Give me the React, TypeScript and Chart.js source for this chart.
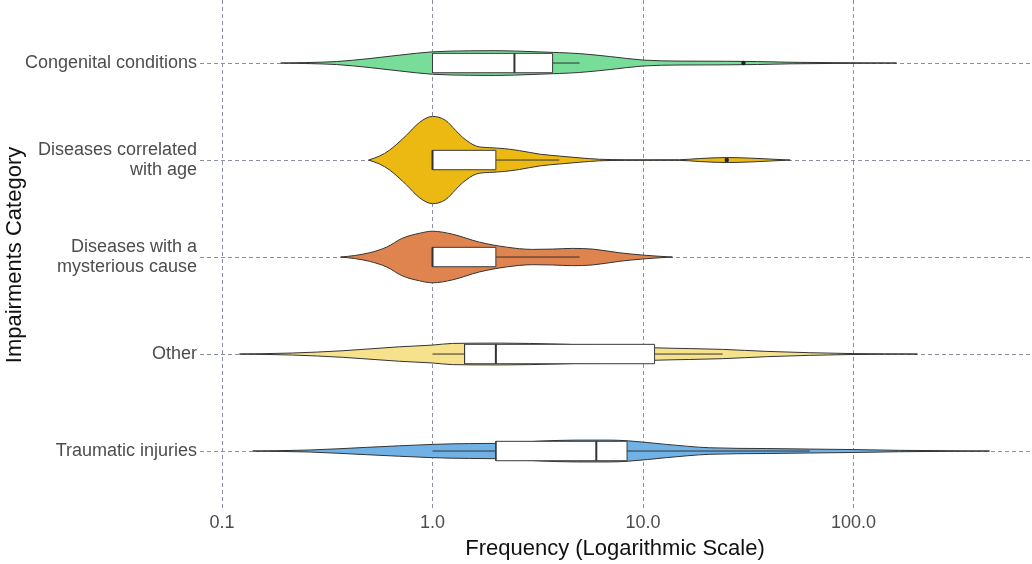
import React, { useEffect, useRef } from 'react';
import { Chart, registerables } from 'chart.js';

Chart.register(...registerables);

// ---------- data ----------
const categories = [
  'Congenital conditions',
  'Diseases correlated\nwith age',
  'Diseases with a\nmysterious cause',
  'Other',
  'Traumatic injuries',
];

const fillColors = ['#77DD99', '#ECB913', '#E0844F', '#F6E28C', '#70B2E6'];

// violin density profiles (x = frequency, d = relative density, 1 = widest violin)
const congenitalX = [0.19, 0.25, 0.35, 0.5, 0.7, 1.0, 1.5, 2.0, 3.0, 4.0, 5.0, 7.0, 10, 15, 25, 35, 50, 80, 160];
const congenitalD = [0, 0.011, 0.034, 0.102, 0.182, 0.257, 0.28, 0.284, 0.261, 0.239, 0.216, 0.148, 0.068, 0.045, 0.041, 0.034, 0.018, 0.009, 0];

const ageX = [0.497, 0.56, 0.625, 0.752, 0.868, 1.0, 1.153, 1.286, 1.388, 1.618, 1.865, 2.2, 2.59, 3.22, 4.0, 5.0, 6.2, 8.2, 10.7, 14.9, 18.5, 25, 32, 40, 50];
const ageD = [0, 0.091, 0.227, 0.568, 0.864, 1, 0.909, 0.682, 0.523, 0.318, 0.284, 0.261, 0.216, 0.136, 0.091, 0.05, 0.018, 0.007, 0.005, 0.007, 0.034, 0.057, 0.045, 0.023, 0];

const mysteriousX = [0.366, 0.426, 0.502, 0.605, 0.72, 0.868, 1.0, 1.245, 1.671, 2.247, 2.99, 3.72, 4.62, 5.75, 7.72, 9.94, 11.9, 13.8];
const mysteriousD = [0, 0.034, 0.098, 0.227, 0.432, 0.545, 0.591, 0.523, 0.341, 0.227, 0.175, 0.182, 0.198, 0.182, 0.098, 0.045, 0.018, 0];

const otherX = [0.121, 0.216, 0.374, 0.697, 1.0, 1.245, 2.08, 4.01, 7.72, 11.35, 16.6, 23.8, 38.5, 62, 98.5, 201];
const otherD = [0, 0.023, 0.075, 0.166, 0.205, 0.243, 0.25, 0.227, 0.182, 0.143, 0.125, 0.107, 0.061, 0.03, 0.011, 0];

const traumaticX = [0.14, 0.26, 0.486, 0.697, 1.0, 1.5, 2.0, 3.22, 4.83, 6.93, 8.5, 12.9, 20.7, 38.5, 62, 98.5, 165, 287, 443];
const traumaticD = [0, 0.023, 0.084, 0.12, 0.152, 0.17, 0.175, 0.227, 0.25, 0.25, 0.234, 0.152, 0.075, 0.057, 0.045, 0.034, 0.016, 0.007, 0];

// box plot statistics (same order as categories)
const whiskerLow = [1, 1, 1, 1, 1];
const q1 = [1, 1, 1, 1.42, 2];
const median = [2.45, 1, 1, 2, 6];
const q3 = [3.72, 2, 2, 11.35, 8.4];
const whiskerHigh = [5, 4, 5, 23.9, 62];
const outliers = [[30], [25], [], [], []];

const xTickValues = [0.1, 1, 10, 100];
const xTickLabels = ['0.1', '1.0', '10.0', '100.0'];

// ---------- styling ----------
const FONT = "'Liberation Sans', Arial, sans-serif";
const OUTLINE = '#333333';
const GRID = '#8B91A2';
const VIOLIN_HALF = 0.45;
const BOX_HALF = 0.1;
const X_MIN = 0.0786;
const X_MAX = 689.5;
const Y_MIN = -0.608;
const Y_MAX = 4.65;

export default function App() {
  const ref = useRef<HTMLCanvasElement>(null);

  useEffect(() => {
    document.body.style.margin = '0';
    const violins = [
      { x: congenitalX, d: congenitalD },
      { x: ageX, d: ageD },
      { x: mysteriousX, d: mysteriousD },
      { x: otherX, d: otherD },
      { x: traumaticX, d: traumaticD },
    ];
    const n = categories.length;
    const posOf = (i: number) => n - 1 - i;

    const datasets: any[] = [];
    violins.forEach((v, i) => {
      const pos = posOf(i);
      datasets.push({
        data: v.x.map((x, k) => ({ x, y: pos + v.d[k] * VIOLIN_HALF })),
        borderColor: OUTLINE,
        borderWidth: 1,
        backgroundColor: fillColors[i],
        fill: false,
        cubicInterpolationMode: 'monotone',
        pointRadius: 0,
        pointHitRadius: 0,
        order: 10,
      });
      datasets.push({
        data: v.x.map((x, k) => ({ x, y: pos - v.d[k] * VIOLIN_HALF })),
        borderColor: OUTLINE,
        borderWidth: 1,
        backgroundColor: fillColors[i],
        fill: '-1',
        cubicInterpolationMode: 'monotone',
        pointRadius: 0,
        pointHitRadius: 0,
        order: 10,
      });
    });

    categories.forEach((_, i) => {
      const pos = posOf(i);
      // whisker
      datasets.push({
        data: [{ x: whiskerLow[i], y: pos }, { x: whiskerHigh[i], y: pos }],
        borderColor: OUTLINE,
        borderWidth: 1,
        pointRadius: 0,
        fill: false,
        order: 5,
      });
      // box
      datasets.push({
        data: [
          { x: q1[i], y: pos - BOX_HALF },
          { x: q3[i], y: pos - BOX_HALF },
          { x: q3[i], y: pos + BOX_HALF },
          { x: q1[i], y: pos + BOX_HALF },
          { x: q1[i], y: pos - BOX_HALF },
        ],
        borderColor: '#3a3a3a',
        borderWidth: 1,
        backgroundColor: '#ffffff',
        fill: 'shape',
        pointRadius: 0,
        order: 3,
      });
      // median
      datasets.push({
        data: [{ x: median[i], y: pos - BOX_HALF }, { x: median[i], y: pos + BOX_HALF }],
        borderColor: '#333333',
        borderWidth: 2,
        pointRadius: 0,
        fill: false,
        order: 2,
      });
    });

    const outlierPts: { x: number; y: number }[] = [];
    outliers.forEach((arr, i) => arr.forEach((x) => outlierPts.push({ x, y: posOf(i) })));
    datasets.push({
      data: outlierPts,
      showLine: false,
      pointRadius: 2.2,
      pointBackgroundColor: '#222222',
      pointBorderWidth: 0,
      order: 1,
    });

    const chart = new Chart(ref.current as HTMLCanvasElement, {
      type: 'line',
      data: { datasets },
      options: {
        animation: false,
        responsive: false,
        events: [],
        layout: { autoPadding: false, padding: { left: 0, right: 2, top: 0, bottom: 0 } },
        plugins: { legend: { display: false }, tooltip: { enabled: false } },
        scales: {
          x: {
            type: 'logarithmic',
            min: X_MIN,
            max: X_MAX,
            bounds: 'data',
            afterBuildTicks: (s: any) => {
              s.ticks = xTickValues.map((value) => ({ value }));
            },
            afterFit: (s: any) => {
              s.height = 54;
              s.paddingLeft = 0;
              s.paddingRight = 0;
            },
            ticks: {
              autoSkip: false,
              maxRotation: 0,
              padding: 2,
              color: '#4D4D4D',
              font: { family: FONT, size: 18 },
              callback: (_v: any, idx: number) => xTickLabels[idx],
            },
            grid: { color: GRID, lineWidth: 1, drawTicks: false },
            border: { display: false, dash: [4, 3] },
            title: {
              display: true,
              text: 'Frequency (Logarithmic Scale)',
              color: '#111111',
              font: { family: FONT, size: 22 },
              padding: { top: 0, bottom: 2 },
            },
          },
          y: {
            type: 'linear',
            min: Y_MIN,
            max: Y_MAX,
            bounds: 'data',
            afterBuildTicks: (s: any) => {
              s.ticks = categories.map((_, i) => ({ value: i }));
            },
            afterFit: (s: any) => {
              s.width = 200;
              s.paddingTop = 0;
              s.paddingBottom = 0;
            },
            ticks: {
              autoSkip: false,
              padding: 3,
              color: '#4D4D4D',
              font: { family: FONT, size: 18, lineHeight: 1.1 },
              callback: (v: any) => {
                const label = categories[n - 1 - Math.round(Number(v))];
                return label ? label.split('\n') : '';
              },
            },
            grid: { color: GRID, lineWidth: 1, drawTicks: false },
            border: { display: false, dash: [4, 3] },
            title: {
              display: true,
              text: 'Impairments Category',
              color: '#111111',
              font: { family: FONT, size: 22 },
              padding: { top: 2, bottom: 0 },
            },
          },
        },
      } as any,
    });
    return () => chart.destroy();
  }, []);

  return (
    <div style={{ width: 1032, height: 564 }}>
      <canvas ref={ref} width={1032} height={564} />
    </div>
  );
}
